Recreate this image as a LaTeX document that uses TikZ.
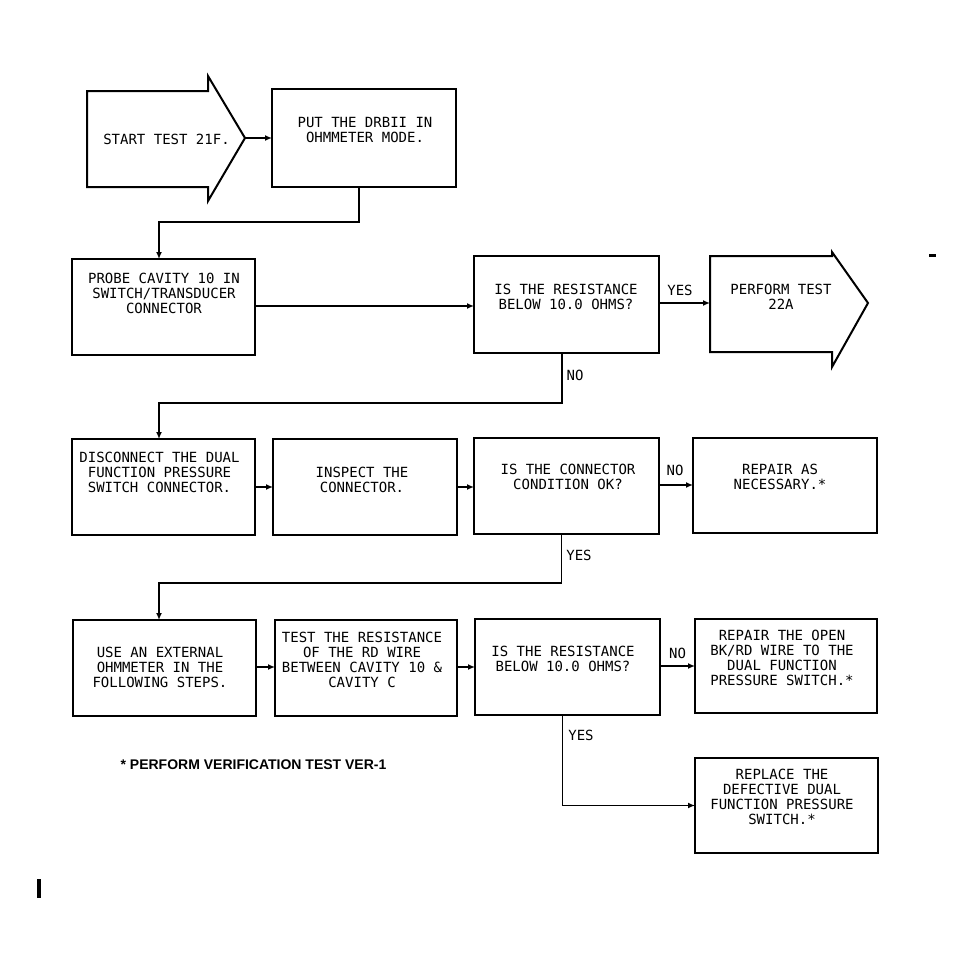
\documentclass[tikz,border=0pt]{standalone}
\usepackage{fontspec}
\newfontfamily\plotfont{DejaVu Sans Mono}
\newfontfamily\notefont{Liberation Sans}
\usetikzlibrary{arrows.meta,calc}
\begin{document}
\begin{tikzpicture}[x=1pt,y=-1pt,
  boxshape/.style={draw,line width=2pt,inner sep=0pt,outer sep=0pt},
  boxtext/.style={font=\plotfont\fontsize{14pt}{15pt}\selectfont,align=center,inner sep=0pt},
  lbl/.style={font=\plotfont\fontsize{14pt}{15pt}\selectfont,inner sep=0pt},
  conn/.style={line width=1.8pt,-{Latex[length=7pt,width=6pt]}},
  plain/.style={line width=1.8pt}]
\useasboundingbox (0,0) rectangle (973,975);

% start arrow
\draw[line width=2pt] (87,91) -- (208,91) -- (208,76) -- (245,138) -- (208,201) -- (208,187) -- (87,187) -- cycle;
\node[boxtext] (start) at (166.5,139) {START TEST 21F.};
\coordinate (starttip) at (245,138);

% perform arrow
\draw[line width=2pt] (710,256) -- (832,256) -- (832,252) -- (868,303) -- (832,367) -- (832,352) -- (710,352) -- cycle;
\node[boxtext] (perf) at (781,296.5) {PERFORM TEST\\22A};
\coordinate (perftail) at (710,303);

% boxes
\node[boxshape,minimum width=184pt,minimum height=98pt] (put) at (364,138) {};
\node[boxtext] (putt) at (365,129.5) {PUT THE DRBII IN\\OHMMETER MODE.};

\node[boxshape,minimum width=183pt,minimum height=96pt] (probe) at (163.5,307) {};
\node[boxtext] (probet) at (164,293) {PROBE CAVITY 10 IN\\SWITCH/TRANSDUCER\\CONNECTOR};

\node[boxshape,minimum width=185pt,minimum height=97pt] (is1) at (566.5,304.5) {};
\node[boxtext] (is1t) at (566,296.5) {IS THE RESISTANCE\\BELOW 10.0 OHMS?};

\node[boxshape,minimum width=183pt,minimum height=96pt] (disc) at (163.5,487) {};
\node[boxtext] (disct) at (159.5,472) {DISCONNECT THE DUAL\\FUNCTION PRESSURE\\SWITCH CONNECTOR.};

\node[boxshape,minimum width=184pt,minimum height=96pt] (insp) at (365,487) {};
\node[boxtext] (inspt) at (362,479.5) {INSPECT THE\\CONNECTOR.};

\node[boxshape,minimum width=185pt,minimum height=96pt] (cond) at (566.5,486) {};
\node[boxtext] (condt) at (568,476.5) {IS THE CONNECTOR\\CONDITION OK?};

\node[boxshape,minimum width=184pt,minimum height=95pt] (rep) at (785,485.5) {};
\node[boxtext] (rept) at (780,476.5) {REPAIR AS\\NECESSARY.*};

\node[boxshape,minimum width=183pt,minimum height=96pt] (use) at (164.5,668) {};
\node[boxtext] (uset) at (160,667) {USE AN EXTERNAL\\OHMMETER IN THE\\FOLLOWING STEPS.};

\node[boxshape,minimum width=182pt,minimum height=96pt] (test) at (366,668) {};
\node[boxtext] (testt) at (362,660) {TEST THE RESISTANCE\\OF THE RD WIRE\\BETWEEN CAVITY 10 \&\\CAVITY C};

\node[boxshape,minimum width=185pt,minimum height=96pt] (is2) at (567.5,667) {};
\node[boxtext] (is2t) at (563,658.5) {IS THE RESISTANCE\\BELOW 10.0 OHMS?};

\node[boxshape,minimum width=182pt,minimum height=94pt] (open) at (786,666) {};
\node[boxtext] (opent) at (782,657.5) {REPAIR THE OPEN\\BK/RD WIRE TO THE\\DUAL FUNCTION\\PRESSURE SWITCH.*};

\node[boxshape,minimum width=183pt,minimum height=95pt] (repl) at (786.5,805.5) {};
\node[boxtext] (replt) at (782,797) {REPLACE THE\\DEFECTIVE DUAL\\FUNCTION PRESSURE\\SWITCH.*};

% connectors
\draw[conn] (starttip) -- (put.west);
\draw[conn] ([xshift=-5pt]put.south) -- ++(0,35) -| ([xshift=-4.5pt]probe.north);
\draw[conn] (probe.east |- 0,306) -- (is1.west |- 0,306);
\draw[conn] (is1.east |- perftail) -- (perftail);
\draw[conn] ([xshift=-4.5pt]is1.south) -- ++(0,50) -| ([xshift=-4.5pt]disc.north);
\draw[conn] (disc.east) -- (insp.west);
\draw[conn] (insp.east) -- (insp.east -| cond.west);
\draw[conn] (cond.east |- 0,485) -- (rep.west |- 0,485);
\draw[conn] ([xshift=-5pt]cond.south) -- ++(0,49) -| ([xshift=-5.5pt]use.north);
\draw[conn] (use.east |- 0,667) -- (test.west |- 0,667);
\draw[conn] (test.east |- 0,667) -- (is2.west |- 0,667);
\draw[conn] (is2.east |- 0,666) -- (open.west |- 0,666);
\draw[conn] ([xshift=-5pt]is2.south) |- (repl.west);

% branch labels
\node[lbl] (l1) at (680,290) {YES};
\node[lbl] (l2) at (575,375) {NO};
\node[lbl] (l3) at (675,470) {NO};
\node[lbl] (l4) at (579,555) {YES};
\node[lbl] (l5) at (677.5,653) {NO};
\node[lbl] (l6) at (581,735) {YES};

% footnote
\node[font=\notefont\bfseries\fontsize{14pt}{16pt}\selectfont,inner sep=0pt] (note) at (253.5,765) {* PERFORM VERIFICATION TEST VER-1};

% stray marks
\fill (929,254) rectangle (936,257);
\fill (37,879) rectangle (41,898);
\end{tikzpicture}
\end{document}
